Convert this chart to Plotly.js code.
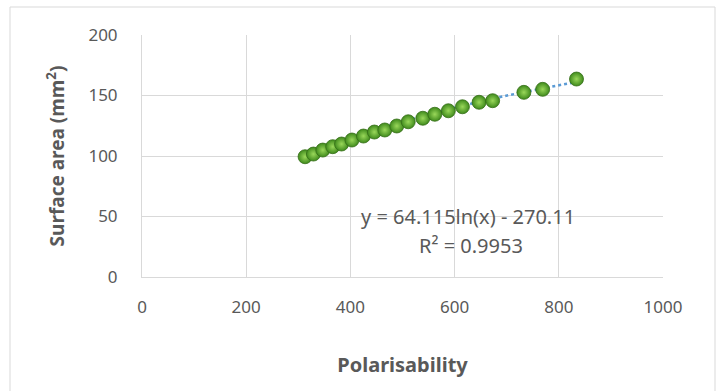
<!DOCTYPE html>
<html>
<head>
<meta charset="utf-8">
<script src="https://cdn.plot.ly/plotly-3.0.1.min.js"></script>
<style>html,body{margin:0;padding:0;background:#fff;}#chart{width:721px;height:391px;}</style>
</head>
<body>
<div id="chart"></div>
<script>
// Data
const polarisability = [313, 329, 347, 366, 383, 403, 425, 446, 466, 489, 511, 539, 562, 588, 615, 647, 673, 733, 769, 834];
const surfaceArea = [99.4, 101.6, 104.9, 107.7, 109.9, 113.2, 116.5, 119.8, 121.5, 124.8, 128.3, 131.2, 134.5, 137.4, 140.7, 144.4, 145.7, 152.6, 155.1, 163.6];

// Trendline coefficients as printed on the chart: y = a ln(x) + b
const trendA = 64.115;
const trendB = -270.11;
const trendLabel = ["y = 64.115ln(x) - 270.11", "R² = 0.9953"];

const xTicks = [0, 200, 400, 600, 800, 1000];
const yTicks = [0, 50, 100, 150, 200];

const trendX = [];
const xmin = Math.min(...polarisability), xmax = Math.max(...polarisability);
for (let i = 0; i <= 60; i++) trendX.push(xmin + (xmax - xmin) * i / 60);
const trendY = trendX.map(x => trendA * Math.log(x) + trendB);

const font = "'Noto Sans', 'Open Sans', sans-serif";
const grey = '#595959';

const traces = [
  {
    x: trendX, y: trendY, mode: 'lines', type: 'scatter',
    line: {color: '#5B9BD5', width: 2.5, dash: 'dot'},
    hoverinfo: 'skip', showlegend: false
  },
  {
    x: polarisability, y: surfaceArea, mode: 'markers', type: 'scatter',
    marker: {
      size: 14, color: '#3f8a1c',
      gradient: {type: 'radial', color: '#9ad85a'},
      line: {color: '#356d16', width: 0.8}
    },
    showlegend: false
  }
];

const layout = {
  width: 721, height: 391,
  margin: {l: 142, r: 58, t: 35, b: 114},
  paper_bgcolor: '#ffffff', plot_bgcolor: '#ffffff',
  font: {family: font, color: grey, size: 17},
  xaxis: {
    range: [0, 1000], tickvals: xTicks, ticktext: xTicks.map(String),
    showgrid: true, gridcolor: '#d9d9d9', gridwidth: 1,
    zeroline: false, showline: true, linecolor: '#d9d9d9', linewidth: 1, mirror: false,
    ticks: '', ticklabelstandoff: 15,
    tickfont: {family: font, size: 17, color: grey},
    title: {text: 'Polarisability', font: {family: font, size: 20, color: grey, weight: 'bold'}, standoff: 40}
  },
  yaxis: {
    range: [0, 200], tickvals: yTicks, ticktext: yTicks.map(String),
    showgrid: true, gridcolor: '#d9d9d9', gridwidth: 1,
    zeroline: false, showline: true, linecolor: '#d9d9d9', linewidth: 1,
    ticks: '', ticklabelstandoff: 20,
    tickfont: {family: font, size: 17, color: grey},
    title: {text: 'Surface area (mm<sup>2</sup>)', font: {family: font, size: 19, color: grey, weight: 'bold'}, standoff: 18}
  },
  annotations: [
    {xref: 'paper', yref: 'paper', x: (468 - 142) / 521, y: (277 - 217) / 242, text: trendLabel[0],
     showarrow: false, xanchor: 'center', yanchor: 'middle', font: {family: font, size: 20, color: grey}},
    {xref: 'paper', yref: 'paper', x: (471 - 142) / 521, y: (277 - 245) / 242, text: trendLabel[1],
     showarrow: false, xanchor: 'center', yanchor: 'middle', font: {family: font, size: 20, color: grey}}
  ],
  shapes: [
    {type: 'rect', xref: 'paper', yref: 'paper',
     x0: (10 - 142) / 521, x1: (715 - 142) / 521, y0: -(395 - 277) / 242, y1: 1 + (35 - 7) / 242,
     line: {color: '#d9d9d9', width: 1}, fillcolor: 'rgba(0,0,0,0)', layer: 'below'}
  ]
};

Plotly.newPlot('chart', traces, layout, {displayModeBar: false, staticPlot: true});
</script>
</body>
</html>
